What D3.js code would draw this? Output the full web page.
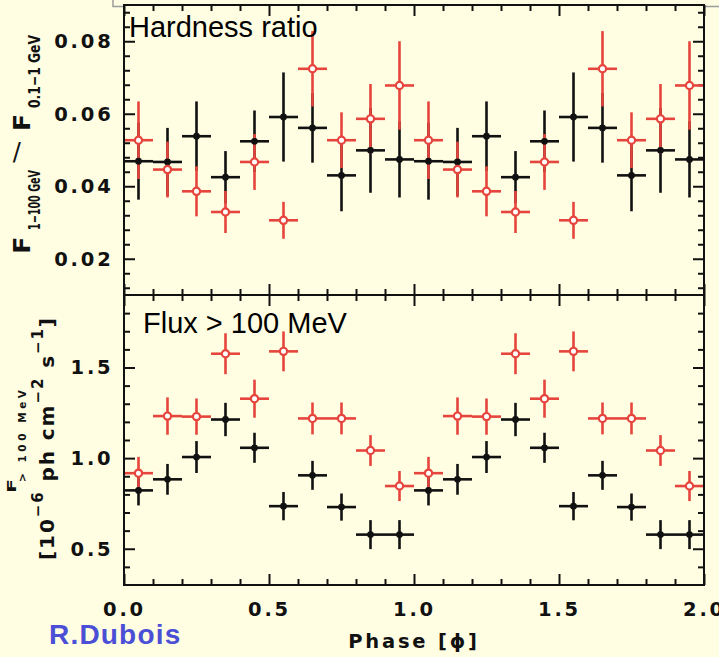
<!DOCTYPE html>
<html><head><meta charset="utf-8">
<script src="https://cdn.jsdelivr.net/npm/d3@7"></script>
<style>
html,body{margin:0;padding:0;background:#fffee3;}
svg{display:block;}
</style></head>
<body>
<svg id="c" width="719" height="657"></svg>
<script>
// ---- data ----
const phases = [0.05,0.15,0.25,0.35,0.45,0.55,0.65,0.75,0.85,0.95,
                1.05,1.15,1.25,1.35,1.45,1.55,1.65,1.75,1.85,1.95];
const binHalfWidth = 0.05;

const hrBlack    = [0.0469,0.0467,0.0538,0.0425,0.0524,0.0591,0.0561,0.0430,0.0499,0.0474,
                    0.0469,0.0467,0.0538,0.0425,0.0524,0.0591,0.0561,0.0430,0.0499,0.0474];
const hrBlackErr = [0.0106,0.0094,0.0096,0.0072,0.0085,0.0123,0.0096,0.0099,0.0117,0.0105,
                    0.0106,0.0094,0.0096,0.0072,0.0085,0.0123,0.0096,0.0099,0.0117,0.0105];
const hrRed      = [0.0527,0.0446,0.0386,0.0329,0.0467,0.0306,0.0724,0.0527,0.0586,0.0678,
                    0.0527,0.0446,0.0386,0.0329,0.0467,0.0306,0.0724,0.0527,0.0586,0.0678];
const hrRedErr   = [0.0107,0.0077,0.0069,0.0058,0.0077,0.0051,0.0104,0.0077,0.0096,0.0122,
                    0.0107,0.0077,0.0069,0.0058,0.0077,0.0051,0.0104,0.0077,0.0096,0.0122];

const fxBlack    = [0.822,0.883,1.006,1.213,1.057,0.735,0.905,0.730,0.578,0.578,
                    0.822,0.883,1.006,1.213,1.057,0.735,0.905,0.730,0.578,0.578];
const fxBlackErr = [0.083,0.085,0.088,0.092,0.083,0.078,0.080,0.075,0.080,0.080,
                    0.083,0.085,0.088,0.092,0.083,0.078,0.080,0.075,0.080,0.080];
const fxRed      = [0.917,1.232,1.229,1.576,1.328,1.589,1.219,1.219,1.042,0.846,
                    0.917,1.232,1.229,1.576,1.328,1.589,1.219,1.219,1.042,0.846];
const fxRedErr   = [0.090,0.103,0.100,0.113,0.105,0.110,0.088,0.088,0.085,0.083,
                    0.090,0.103,0.100,0.113,0.105,0.110,0.088,0.088,0.085,0.083];

const xMajorTicks = [0,0.5,1.0,1.5,2.0];
const xMinorTicks = [0.1,0.2,0.3,0.4,0.6,0.7,0.8,0.9,1.1,1.2,1.3,1.4,1.6,1.7,1.8,1.9];
const hrMajorTicks = [0.02,0.04,0.06,0.08];
const hrMinorTicks = [0.012,0.016,0.024,0.028,0.032,0.036,0.044,0.048,0.052,0.056,0.064,0.068,0.072,0.076,0.084,0.088];
const fxMajorTicks = [0.5,1.0,1.5];
const fxMinorTicks = [0.4,0.6,0.7,0.8,0.9,1.1,1.2,1.3,1.4,1.6,1.7,1.8];

const titleTop = "Hardness ratio";
const titleBottom = "Flux > 100 MeV";
const xTitle = "Phase [\u03D5]";
const credit = "R.Dubois";

// ---- layout ----
const W = 719, H = 657;
const L = 124, R = 704, T1 = 5, B1 = 295, T2 = 295, B2 = 585;
const BG = "#fffee3", RED = "#e6453d", BLK = "#111";
const tickFont = "'DejaVu Sans', sans-serif";

const svg = d3.select("#c");
svg.append("rect").attr("width",W).attr("height",H).attr("fill",BG);

// grey box remnant at top
svg.append("path").attr("d","M113,0 L113,6.5 L719,6.5").attr("fill","none")
   .attr("stroke","#9c9c9c").attr("stroke-width",1.5);

const x = d3.scaleLinear().domain([0,2]).range([L,R]);
const yHR = d3.scaleLinear().domain([0.01,0.09]).range([B1,T1]);
const yFX = d3.scaleLinear().domain([0.3,1.9]).range([B2,T2]);

function styleTick(sel){
  sel.attr("font-family",tickFont).attr("font-weight","bold")
    .attr("font-size",19.5).attr("letter-spacing","2.8px").attr("fill",BLK);
}

function panel(y, top, bottom, major, minor, fmt, blk, blkErr, red, redErr, showX){
  const g = svg.append("g");
  g.append("rect").attr("x",L).attr("y",top).attr("width",R-L).attr("height",bottom-top).attr("fill",BG);

  const mk = (axis, tr, vals, size) => {
    const a = g.append("g").attr("transform",tr)
      .call(axis.tickValues(vals).tickSize(size).tickFormat(""));
    a.select(".domain").remove();
    a.selectAll("line").attr("stroke",BLK).attr("stroke-width",2);
  };
  mk(d3.axisLeft(y), `translate(${L},0)`, major, -11);
  mk(d3.axisLeft(y), `translate(${L},0)`, minor, -6);
  mk(d3.axisRight(y), `translate(${R},0)`, major, -11);
  mk(d3.axisRight(y), `translate(${R},0)`, minor, -6);
  mk(d3.axisTop(x), `translate(0,${top})`, xMajorTicks, -11);
  mk(d3.axisTop(x), `translate(0,${top})`, xMinorTicks, -6);
  mk(d3.axisBottom(x), `translate(0,${bottom})`, xMajorTicks, -11);
  mk(d3.axisBottom(x), `translate(0,${bottom})`, xMinorTicks, -6);

  const yl = g.append("g").attr("transform",`translate(${L},0)`)
    .call(d3.axisLeft(y).tickValues(major).tickSize(0).tickPadding(10.5).tickFormat(fmt));
  yl.select(".domain").remove();
  styleTick(yl.selectAll("text"));

  if (showX){
    const xl = g.append("g").attr("transform",`translate(0,${bottom})`)
      .call(d3.axisBottom(x).tickValues(xMajorTicks).tickSize(0).tickPadding(17.5).tickFormat(d3.format(".1f")));
    xl.select(".domain").remove();
    styleTick(xl.selectAll("text"));
  }

  const marks = g.append("g");
  const idx = d3.range(phases.length);
  const bars = (vals, errs, color) => {
    const s = marks.append("g").attr("stroke",color).attr("stroke-width",2.6);
    s.selectAll(".h").data(idx).join("line")
      .attr("x1",i=>x(phases[i]-binHalfWidth)).attr("x2",i=>x(phases[i]+binHalfWidth))
      .attr("y1",i=>y(vals[i])).attr("y2",i=>y(vals[i]));
    s.selectAll(".v").data(idx).join("line")
      .attr("x1",i=>x(phases[i])).attr("x2",i=>x(phases[i]))
      .attr("y1",i=>y(vals[i]-errs[i])).attr("y2",i=>y(vals[i]+errs[i]));
  };
  bars(blk, blkErr, BLK);
  bars(red, redErr, RED);
  marks.append("g").selectAll("circle").data(idx).join("circle")
    .attr("cx",i=>x(phases[i])).attr("cy",i=>y(blk[i])).attr("r",3.4).attr("fill",BLK);
  marks.append("g").selectAll("circle").data(idx).join("circle")
    .attr("cx",i=>x(phases[i])).attr("cy",i=>y(red[i])).attr("r",3.6)
    .attr("fill","#fff").attr("stroke",RED).attr("stroke-width",2.2);

  g.append("rect").attr("x",L).attr("y",top).attr("width",R-L).attr("height",bottom-top)
    .attr("fill","none").attr("stroke",BLK).attr("stroke-width",2);
  return g;
}

panel(yHR, T1, B1, hrMajorTicks, hrMinorTicks, d3.format(".2f"), hrBlack, hrBlackErr, hrRed, hrRedErr, false);
panel(yFX, T2, B2, fxMajorTicks, fxMinorTicks, d3.format(".1f"), fxBlack, fxBlackErr, fxRed, fxRedErr, true);

// panel titles
svg.append("text").attr("x",129).attr("y",36.5).text(titleTop)
  .attr("font-family","'Liberation Sans', Arial, sans-serif").attr("font-size",29).attr("fill","#000");
svg.append("text").attr("x",143).attr("y",333).text(titleBottom)
  .attr("font-family","'Liberation Sans', Arial, sans-serif").attr("font-size",29).attr("fill","#000");

// x title
svg.append("text").attr("x",414).attr("y",648).attr("text-anchor","middle").text(xTitle)
  .attr("font-family",tickFont).attr("font-weight","bold").attr("font-size",19.5)
  .attr("letter-spacing","2.8px").attr("fill",BLK);

// credit
svg.append("text").attr("x",49).attr("y",643.5).text(credit)
  .attr("font-family","'Liberation Sans', Arial, sans-serif").attr("font-weight","bold")
  .attr("font-size",28).attr("letter-spacing","1.2px").attr("fill","#4a4fd6");

// y title top panel
const yt = svg.append("g").attr("transform","translate(30,252.7) rotate(-90)")
  .attr("font-family",tickFont).attr("font-weight","bold").attr("fill",BLK);
yt.append("text").attr("x",-1).attr("y",0).attr("font-size",23).attr("textLength",17).attr("lengthAdjust","spacingAndGlyphs").text("F");
yt.append("text").attr("x",22.7).attr("y",10).attr("font-size",16).attr("textLength",60).attr("lengthAdjust","spacingAndGlyphs").text("1\u2212100 GeV");
yt.append("text").attr("x",121.7).attr("y",0).attr("font-size",23).attr("textLength",17).attr("lengthAdjust","spacingAndGlyphs").text("F");
yt.append("text").attr("x",144.7).attr("y",10).attr("font-size",16).attr("textLength",73).attr("lengthAdjust","spacingAndGlyphs").text("0.1\u22121 GeV");
// the slash is drawn upright in the reference
svg.append("text").attr("x",16.7).attr("y",159.5).attr("text-anchor","middle")
  .attr("font-family",tickFont).attr("font-size",24).attr("fill",BLK).text("/");

// y title bottom panel
const yb1 = svg.append("g").attr("transform","translate(16,493) rotate(-90)")
  .attr("font-family",tickFont).attr("font-weight","bold").attr("fill",BLK);
yb1.append("text").attr("x",0).attr("y",0).attr("font-size",12).attr("textLength",14).attr("lengthAdjust","spacingAndGlyphs").text("F");
yb1.append("text").attr("x",11).attr("y",10).attr("font-size",10.5).attr("textLength",92).attr("lengthAdjust","spacing").text("> 100 MeV");

const yb2 = svg.append("g").attr("transform","translate(54,560) rotate(-90)")
  .attr("font-family",tickFont).attr("font-weight","bold").attr("fill",BLK);
const t2 = yb2.append("text").attr("x",0).attr("y",0).attr("font-size",20)
  .attr("textLength",242).attr("lengthAdjust","spacing");
t2.append("tspan").text("[10");
t2.append("tspan").attr("font-size",15).attr("dy",-11).text("\u22126");
t2.append("tspan").attr("dy",11).text(" ph cm");
t2.append("tspan").attr("font-size",15).attr("dy",-11).text("\u22122");
t2.append("tspan").attr("dy",11).text(" s");
t2.append("tspan").attr("font-size",15).attr("dy",-11).text("\u22121");
t2.append("tspan").attr("dy",11).text("]");
</script>
</body></html>
